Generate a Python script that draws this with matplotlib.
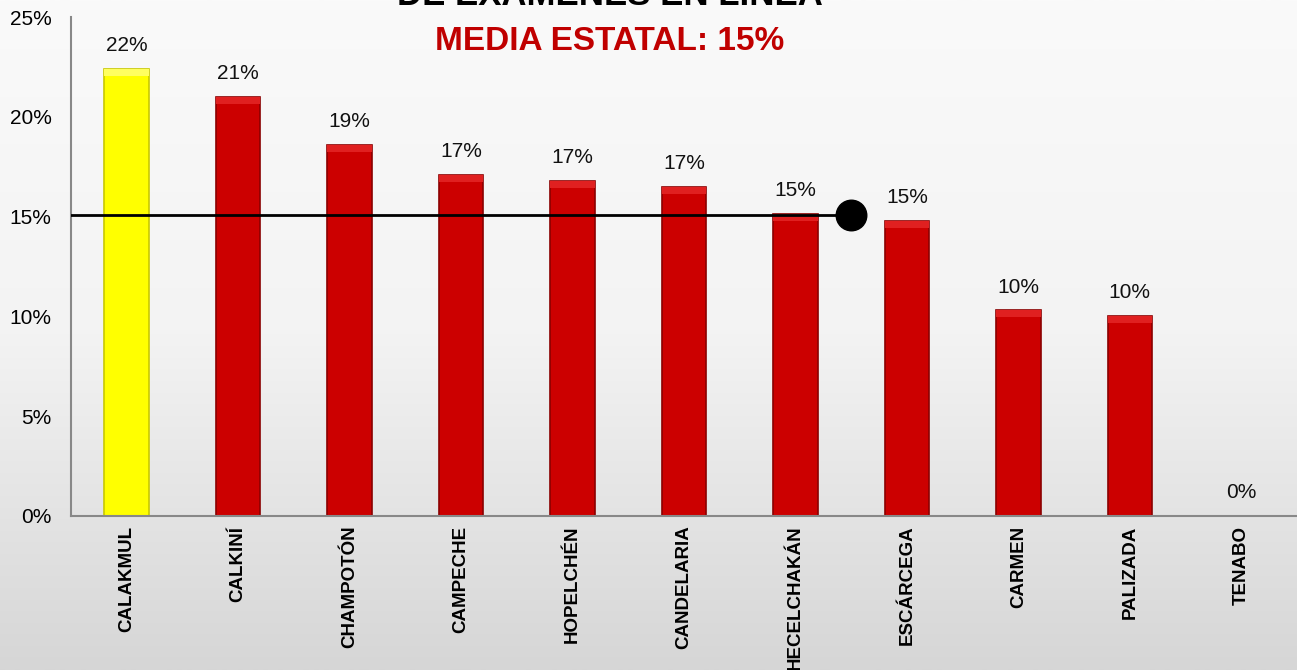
import numpy as np
import matplotlib
matplotlib.use("Agg")
import matplotlib.pyplot as plt
from matplotlib.ticker import PercentFormatter
from matplotlib.colors import LinearSegmentedColormap

categories = ["CALAKMUL", "CALKINÍ", "CHAMPOTÓN", "CAMPECHE", "HOPELCHÉN",
              "CANDELARIA", "HECELCHAKÁN", "ESCÁRCEGA", "CARMEN", "PALIZADA", "TENABO"]
values = [22.4, 21.0, 18.6, 17.1, 16.8, 16.5, 15.15, 14.8, 10.3, 10.0, 0.0]
labels = ["22%", "21%", "19%", "17%", "17%", "17%", "15%", "15%", "10%", "10%", "0%"]
mean_value = 15.1
mean_x = [-0.5, 6.5]
title_line = "DE EXÁMENES EN LÍNEA"
subtitle = "MEDIA ESTATAL: 15%"

plt.rcParams['font.family'] = ['Liberation Sans', 'DejaVu Sans']

fig = plt.figure(figsize=(12.97, 6.70), dpi=100)

# background gradient
bg = fig.add_axes([0, 0, 1, 1], zorder=-10)
grad = np.linspace(0, 1, 256).reshape(-1, 1)
cmap = LinearSegmentedColormap.from_list("bg", ["#fafafa", "#f3f3f3", "#d6d6d6"])
bg.imshow(grad, aspect="auto", cmap=cmap, extent=[0, 1, 0, 1], origin="upper")
bg.axis("off")

ax = fig.add_axes([0.0547, 0.2299, 0.9453, 0.7447])
ax.patch.set_alpha(0)
x = np.arange(len(categories))
colors = ["#FFFF00"] + ["#CC0000"] * (len(categories) - 1)
edges = ["#C8C800"] + ["#8A0000"] * (len(categories) - 1)
ax.bar(x, values, width=0.4, color=colors, edgecolor=edges, linewidth=1.2, zorder=2)
# top bevel highlight
tops = ["#FFFF60"] + ["#E02020"] * (len(categories) - 1)
for xi, v, c in zip(x, values, tops):
    if v > 0:
        ax.bar(xi, 0.35, bottom=v - 0.35, width=0.4, color=c, linewidth=0, zorder=3)

for xi, v, lab in zip(x, values, labels):
    ax.annotate(lab, (xi, v), xytext=(0, 10), textcoords="offset points",
                ha="center", va="bottom", fontsize=15, color="#111111")

ax.plot(mean_x, [mean_value, mean_value], color="black", lw=2, zorder=4)
ax.plot([mean_x[-1]], [mean_value], "o", color="black", markersize=22, zorder=5)

ax.set_xlim(-0.5, len(categories) - 0.5)
ax.set_ylim(0, 25)
ax.set_yticks([0, 5, 10, 15, 20, 25])
ax.yaxis.set_major_formatter(PercentFormatter(decimals=0))
ax.set_xticks(x)
ax.set_xticklabels(categories, rotation=90, fontweight="bold", fontsize=13.5)
ax.tick_params(axis="both", length=0)
ax.tick_params(axis="y", labelsize=15, pad=14)
ax.tick_params(axis="x", pad=7)
for s in ["top", "right"]:
    ax.spines[s].set_visible(False)
for s in ["left", "bottom"]:
    ax.spines[s].set_color("#888888")
    ax.spines[s].set_linewidth(1.5)

fig.text(0.47, 1 - 5 / 670, title_line, ha="center", va="baseline",
         fontsize=25, fontweight="bold", color="black")
fig.text(0.47, 1 - 50 / 670, subtitle, ha="center", va="baseline",
         fontsize=24, fontweight="bold", color="#C00000")

fig.savefig("out.png", dpi=100)
